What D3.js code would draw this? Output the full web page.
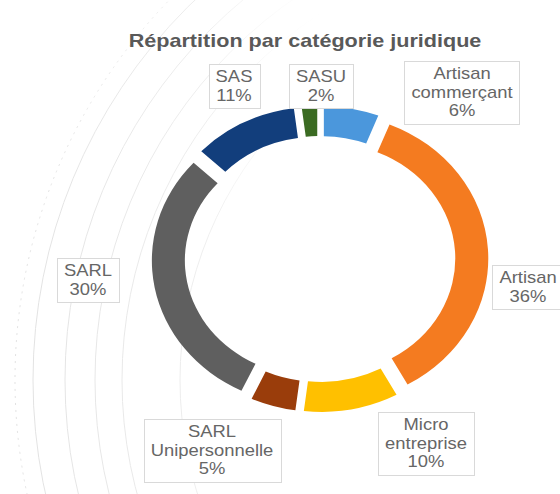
<!DOCTYPE html>
<html>
<head>
<meta charset="utf-8">
<script src="https://cdn.jsdelivr.net/npm/d3@7"></script>
<style>
  body { margin: 0; background: #fff; }
  text { font-family: "Liberation Sans", Arial, sans-serif; }
</style>
</head>
<body>
<div id="chart"></div>
<script type="text/javascript">
// data
var categories = ["Artisan commerçant", "Artisan", "Micro entreprise", "SARL Unipersonnelle", "SARL", "SAS", "SASU"];
var shares = [6, 36, 10, 5, 30, 11, 2];
var labelLines = [["Artisan", "commerçant"], ["Artisan"], ["Micro", "entreprise"], ["SARL", "Unipersonnelle"], ["SARL"], ["SAS"], ["SASU"]];
var colors = ["#4b97dc", "#f47b20", "#ffc000", "#9a3d0b", "#5f5f5f", "#123e7c", "#3b6b22"];

// layout (label box centres)
var labelPos = [[462, 92], [528, 287], [426, 443], [212, 450], [88, 280], [234, 86], [321, 86]];

var width = 560, height = 494;
var cx = 320, cy = 259;
var stretch = 1.1;      // the picture is a little wider than tall
var rOuter = 145, rInner = 115, explode = 8;

var svg = d3.select("#chart").append("svg")
    .attr("width", width)
    .attr("height", height);

// faint decorative arcs on the left
var defs = svg.append("defs");
var grad = defs.append("linearGradient")
    .attr("id", "fade")
    .attr("gradientUnits", "userSpaceOnUse")
    .attr("x1", 0).attr("y1", 0).attr("x2", 340).attr("y2", 0);
grad.append("stop").attr("offset", 0).attr("stop-color", "#e0e0e0");
grad.append("stop").attr("offset", 0.6).attr("stop-color", "#eeeeee");
grad.append("stop").attr("offset", 1).attr("stop-color", "#ffffff").attr("stop-opacity", 0);

var decor = svg.append("g");
[545, 527, 495, 465, 438, 380].forEach(function (r, i) {
  decor.append("circle")
    .attr("cx", 560).attr("cy", 380).attr("r", r)
    .attr("fill", "none")
    .attr("stroke", "url(#fade)")
    .attr("stroke-width", 1)
    .attr("stroke-dasharray", i == 0 ? "2,5" : null);
});

// title
svg.append("g")
    .attr("transform", "translate(305,47) scale(1.2,1)")
  .append("text")
    .attr("text-anchor", "middle")
    .attr("font-size", 18)
    .attr("font-weight", "bold")
    .attr("fill", "#595959")
    .text("Répartition par catégorie juridique");

// donut
var pie = d3.pie().sort(null).value(function (d) { return d; });
var arcs = pie(shares);

var arc = d3.arc()
    .innerRadius(rInner)
    .outerRadius(rOuter)
    .padRadius(100)
    .padAngle(0.04);

var donut = svg.append("g")
    .attr("transform", "translate(" + cx + "," + cy + ") scale(" + stretch + ",1)");

donut.selectAll("path")
    .data(arcs)
    .enter().append("path")
    .attr("d", arc)
    .attr("fill", function (d, i) { return colors[i]; })
    .attr("transform", function (d) {
      var a = (d.startAngle + d.endAngle) / 2;
      return "translate(" + (explode * Math.sin(a)) + "," + (-explode * Math.cos(a)) + ")";
    });

// data labels
var lineH = 19, fontSize = 16, textScale = 1.15;
var labels = svg.append("g");
arcs.forEach(function (d, i) {
  var lines = labelLines[i].concat([shares[i] + "%"]);
  var p = labelPos[i];
  var g = labels.append("g");
  var tg = g.append("g")
      .attr("transform", "translate(" + p[0] + "," + p[1] + ") scale(" + textScale + ",1)");
  var maxW = 0;
  lines.forEach(function (s, k) {
    var t = tg.append("text")
        .attr("text-anchor", "middle")
        .attr("font-size", fontSize)
        .attr("fill", "#666666")
        .attr("y", (k - (lines.length - 1) / 2) * lineH + 5.5)
        .text(s);
    maxW = Math.max(maxW, t.node().getComputedTextLength() * textScale);
  });
  var bw = maxW + 14, bh = lines.length * lineH + 6;
  g.insert("rect", ":first-child")
      .attr("x", Math.round(p[0] - bw / 2) + 0.5)
      .attr("y", Math.round(p[1] - bh / 2) + 0.5)
      .attr("width", Math.round(bw))
      .attr("height", Math.round(bh))
      .attr("fill", "#fff")
      .attr("stroke", "#d9d9d9");
});
</script>
</body>
</html>
